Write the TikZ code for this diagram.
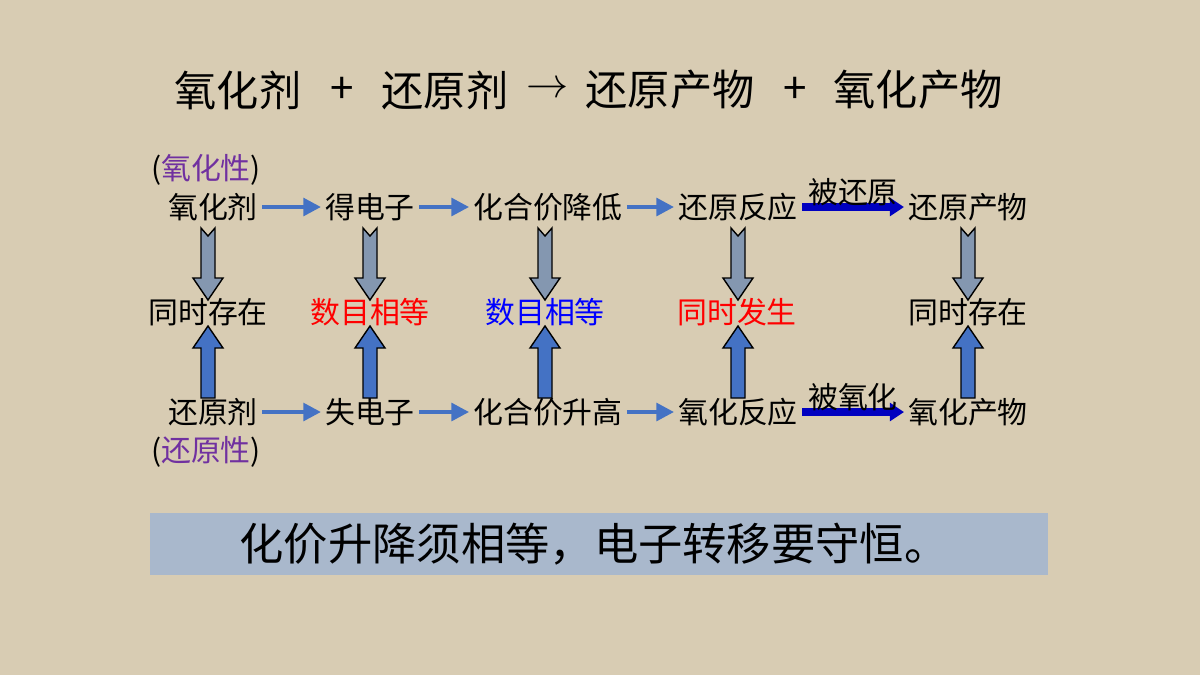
\documentclass[tikz,border=0pt]{standalone}
\usepackage{fontspec}
\setmainfont{Noto Sans CJK SC}
\usetikzlibrary{arrows.meta}
\definecolor{paper}{HTML}{D8CCB3}
\definecolor{steel}{HTML}{8497B0}
\definecolor{flow}{HTML}{4472C4}
\definecolor{deep}{HTML}{0000C0}
\definecolor{tint}{HTML}{7030A0}
\definecolor{band}{HTML}{A9B8CC}

\tikzset{
  word/.style={inner sep=1pt, font=\fontsize{8.5}{10}\selectfont},
  head/.style={inner sep=1pt, font=\fontsize{12}{14}\selectfont},
  flowarr/.style={draw=flow, line width=1.1pt, -{Triangle[width=5pt,length=5pt]}},
  boldarr/.style={draw=deep, line width=2.4pt, -{Triangle[width=5pt,length=4pt]}},
  blockarr/.style={draw=black, line width=0.4pt, line join=miter}
}
% block arrow from (x,top) down to (x,bottom), notched tail
\newcommand{\blockdown}[3]{%
  \filldraw[blockarr, fill=steel] (#1-7,#2) -- (#1,#2+8) -- (#1+7,#2) -- (#1+7,#3-22)
    -- (#1+15,#3-22) -- (#1,#3) -- (#1-15,#3-22) -- (#1-7,#3-22) -- cycle;}
% block arrow from (x,bottom) up to (x,top)
\newcommand{\blockup}[3]{%
  \filldraw[blockarr, fill=flow] (#1-7,#2) -- (#1+7,#2) -- (#1+7,#3+22)
    -- (#1+15,#3+22) -- (#1,#3) -- (#1-15,#3+22) -- (#1-7,#3+22) -- cycle;}

\begin{document}
\begin{tikzpicture}[x=0.01cm, y=-0.01cm]
      % Background
      \fill[paper] (0,0) rectangle (1200,675);

      % Equation on top
      \node[head] (e1) at (238,90) {氧化剂};
      \node[head] (e2) at (342,90) {+};
      \node[head] (e3) at (445,90) {还原剂};
      \node[head] (e4) at (548,90) {$\rightarrow$};
      \node[head] (e5) at (670,90) {还原产物};
      \node[head] (e6) at (795,90) {+};
      \node[head] (e7) at (918,90) {氧化产物};

      % Upper row
      \node[word] (o1) at (213,207) {氧化剂};
      \node[word] (o2) at (370,207) {得电子};
      \node[word] (o3) at (548,207) {化合价降低};
      \node[word] (o4) at (738,207) {还原反应};
      \node[word] (o5) at (968,207) {还原产物};
      \node[word] (op) at (206,170) {(\textcolor{tint}{氧化性})};

      % Middle row
      \node[word] (m1) at (208,312) {同时存在};
      \node[word, text=red] (m2) at (370,312) {数目相等};
      \node[word, text=blue] (m3) at (545,312) {数目相等};
      \node[word, text=red] (m4) at (737,312) {同时发生};
      \node[word] (m5) at (968,312) {同时存在};

      % Lower row
      \node[word] (r1) at (213,412) {还原剂};
      \node[word] (r2) at (370,412) {失电子};
      \node[word] (r3) at (548,412) {化合价升高};
      \node[word] (r4) at (738,412) {氧化反应};
      \node[word] (r5) at (968,412) {氧化产物};
      \node[word] (rp) at (206,452) {(\textcolor{tint}{还原性})};

      % Horizontal arrows
      \draw[flowarr] (o1) -- (o2);
      \draw[flowarr] (o2) -- (o3);
      \draw[flowarr] (o3) -- (o4);
      \draw[boldarr] (o4) -- node[word, above=-2pt] (ol) {被还原} (o5);
      \draw[flowarr] (r1) -- (r2);
      \draw[flowarr] (r2) -- (r3);
      \draw[flowarr] (r3) -- (r4);
      \draw[boldarr] (r4) -- node[word, above=-2pt] (rl) {被氧化} (r5);

      % Block arrows
      \foreach \x in {208,370,545,738,968} {
        \blockdown{\x}{228}{300}
        \blockup{\x}{398}{326}
      }

      % Bottom band
      \fill[band] (150,513) rectangle (1048,575);
      \node[inner sep=0pt, font=\fontsize{12.6}{14}\selectfont] (rule) at (594,544) {化价升降须相等，电子转移要守恒。};
\end{tikzpicture}
\end{document}
